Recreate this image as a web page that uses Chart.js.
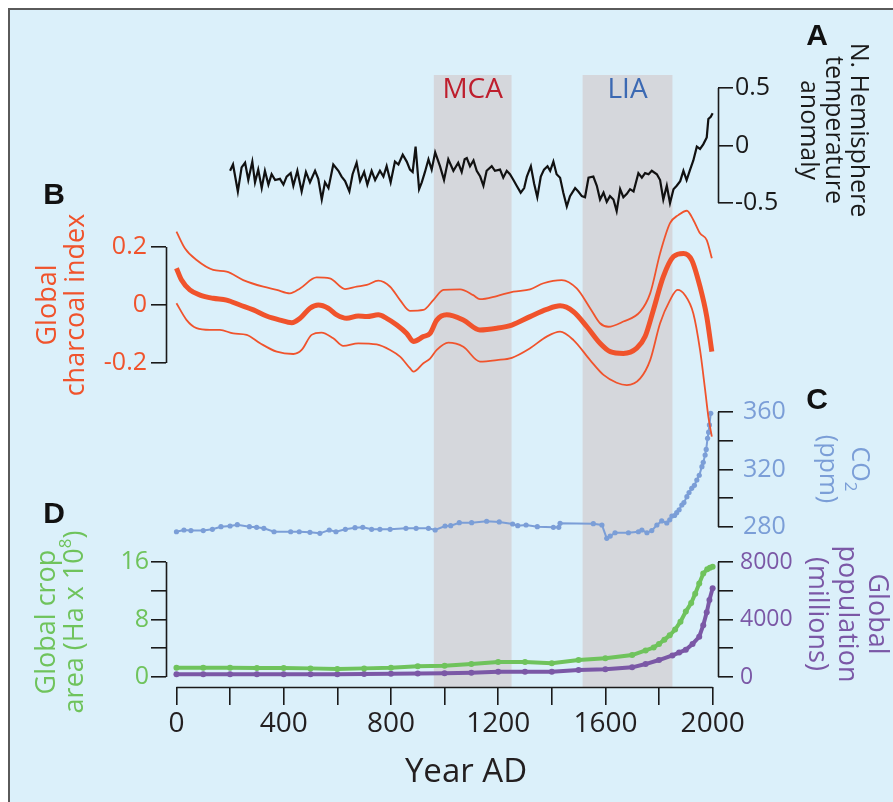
<!DOCTYPE html>
<html>
<head>
<meta charset="utf-8">
<script src="https://cdn.jsdelivr.net/npm/chart.js@4.4.1/dist/chart.umd.min.js"></script>
<style>
  html, body { margin: 0; padding: 0; background: #ffffff; }
  #frame { position: absolute; left: 8px; top: 8px; width: 885px; height: 794px; box-sizing: border-box;
           background: #dbf0fa; border-left: 2px solid #5a5a5a; border-top: 2px solid #5a5a5a; }
  #wrap { position: absolute; left: 0; top: 0; width: 893px; height: 802px; }
</style>
</head>
<body>
<div id="frame"></div>
<div id="wrap"><canvas id="fig"></canvas></div>
<script>
// ---- data ----
const periods = ['MCA', 'LIA'];
const periodStart = [960, 1515];
const periodEnd = [1250, 1850];

// A: N. Hemisphere temperature anomaly
const tempYears = [200,211,229,243,256,268,283,293,305,318,330,343,355,368,386,399,411,426,436,451,467,483,498,517,529,542,554,567,585,604,616,629,645,657,672,685,700,712,728,741,759,772,784,799,815,828,844,859,871,881,892,905,915,927,940,952,965,983,998,1014,1033,1051,1064,1075,1083,1095,1108,1120,1133,1145,1157,1176,1188,1207,1219,1232,1244,1257,1269,1284,1297,1307,1322,1334,1346,1359,1371,1384,1394,1406,1418,1431,1443,1456,1468,1487,1499,1512,1524,1537,1555,1568,1580,1593,1605,1617,1630,1642,1655,1667,1680,1692,1705,1723,1736,1748,1761,1773,1792,1804,1816,1829,1841,1854,1866,1879,1891,1903,1916,1928,1941,1953,1965,1978,1984,1993,2000];
const tempAnom = [-0.22,-0.165,-0.40,-0.19,-0.15,-0.30,-0.14,-0.32,-0.21,-0.37,-0.22,-0.34,-0.25,-0.30,-0.29,-0.34,-0.27,-0.24,-0.35,-0.22,-0.40,-0.23,-0.32,-0.22,-0.29,-0.47,-0.32,-0.37,-0.165,-0.22,-0.27,-0.31,-0.40,-0.25,-0.15,-0.31,-0.23,-0.34,-0.22,-0.30,-0.22,-0.27,-0.18,-0.32,-0.14,-0.165,-0.08,-0.14,-0.21,-0.23,-0.01,-0.38,-0.32,-0.23,-0.12,-0.21,-0.06,-0.18,-0.30,-0.12,-0.22,-0.15,-0.23,-0.12,-0.11,-0.18,-0.13,-0.22,-0.27,-0.35,-0.22,-0.18,-0.22,-0.21,-0.28,-0.22,-0.25,-0.30,-0.35,-0.41,-0.37,-0.27,-0.18,-0.33,-0.45,-0.27,-0.21,-0.18,-0.22,-0.14,-0.25,-0.28,-0.41,-0.53,-0.44,-0.37,-0.40,-0.44,-0.45,-0.28,-0.27,-0.35,-0.47,-0.41,-0.49,-0.44,-0.47,-0.57,-0.38,-0.45,-0.42,-0.38,-0.40,-0.24,-0.28,-0.24,-0.25,-0.22,-0.25,-0.30,-0.47,-0.35,-0.50,-0.38,-0.35,-0.31,-0.22,-0.30,-0.21,-0.13,-0.01,-0.03,0.01,0.07,0.23,0.25,0.28];

// B: global charcoal index (mean and bounds)
const charMeanYears = [0,19,50,88,137,187,237,287,336,386,430,461,498,529,566,598,635,678,710,753,784,822,859,884,921,946,971,1008,1070,1132,1195,1251,1319,1381,1431,1481,1531,1580,1618,1667,1717,1748,1779,1816,1854,1891,1922,1953,1978,1997];
const charMean = [0.127,0.086,0.052,0.034,0.023,0.017,0,-0.017,-0.038,-0.052,-0.061,-0.046,-0.011,0,-0.011,-0.034,-0.046,-0.038,-0.04,-0.034,-0.046,-0.069,-0.098,-0.126,-0.109,-0.098,-0.052,-0.034,-0.052,-0.086,-0.080,-0.069,-0.040,-0.015,-0.003,-0.023,-0.075,-0.132,-0.161,-0.167,-0.149,-0.109,-0.017,0.098,0.167,0.178,0.155,0.063,-0.040,-0.161];
const charUpperYears = [0,32,75,137,187,249,324,374,423,461,523,572,629,672,710,753,797,834,871,921,958,996,1058,1107,1132,1195,1257,1319,1369,1437,1493,1543,1580,1611,1667,1730,1767,1804,1841,1872,1904,1928,1953,1978,1997];
const charUpper = [0.253,0.195,0.155,0.121,0.115,0.086,0.063,0.052,0.040,0.057,0.095,0.092,0.055,0.063,0.069,0.084,0.063,0.017,-0.020,-0.017,0.017,0.052,0.054,0.034,0.020,0.031,0.046,0.054,0.075,0.086,0.057,-0.011,-0.063,-0.075,-0.057,-0.023,0.040,0.178,0.282,0.310,0.325,0.293,0.247,0.224,0.161];
const charLowerYears = [0,38,75,125,162,212,262,312,374,436,467,504,541,585,622,678,747,797,834,871,884,921,946,971,1014,1070,1132,1195,1251,1319,1381,1431,1481,1543,1593,1642,1680,1730,1767,1804,1841,1869,1897,1928,1953,1972,1984,1997];
const charLower = [0.006,-0.052,-0.080,-0.086,-0.086,-0.098,-0.103,-0.132,-0.161,-0.169,-0.155,-0.103,-0.095,-0.115,-0.141,-0.132,-0.136,-0.155,-0.178,-0.218,-0.230,-0.201,-0.185,-0.155,-0.130,-0.144,-0.195,-0.190,-0.182,-0.149,-0.109,-0.092,-0.121,-0.190,-0.241,-0.268,-0.276,-0.253,-0.190,-0.063,0.017,0.052,0.034,-0.029,-0.155,-0.293,-0.385,-0.454];

// C: CO2 (ppm)
const co2Years = [0,28,54,100,134,166,200,227,272,299,326,364,426,458,498,535,570,595,630,666,695,728,759,797,856,894,940,965,1002,1023,1055,1101,1157,1204,1254,1273,1304,1346,1406,1426,1431,1555,1587,1605,1618,1636,1686,1723,1736,1755,1773,1792,1810,1829,1840,1848,1858,1866,1875,1885,1893,1904,1912,1922,1932,1941,1950,1960,1965,1972,1976,1981,1985,1988,1993];
const co2Ppm = [276.7,277.9,277.5,277.5,278.4,280.2,280.7,281.6,280.2,279.8,279.1,276.7,276.7,276.7,276.3,275.6,277.9,276.7,278.4,279.5,279.8,278.4,278.4,278.4,279.1,279.1,279.1,277.9,280.7,280.9,283,283,284,283.5,282.1,280.9,281.4,280.2,279.8,279.8,282.6,282.3,281.4,272.1,273.7,276,276,276.7,277.9,276,277.5,281.4,284.2,282.8,285,287.6,288,290,292,295.3,297,301.1,304,306.9,309,312.7,316,322,325,330.1,334,341.7,346,351,359.1];

// D: global crop area (Ha x 10^8) and population (millions)
const cropYears = [0,100,200,300,400,500,600,700,800,900,1000,1100,1200,1300,1400,1500,1600,1700,1750,1780,1800,1820,1840,1860,1880,1900,1920,1935,1950,1965,1980,1990,2000];
const cropArea = [1.3,1.3,1.3,1.25,1.25,1.2,1.1,1.2,1.3,1.5,1.55,1.8,2.1,2.1,1.9,2.35,2.6,3.05,3.7,4.1,4.6,5.2,5.8,6.6,7.7,9.1,10.3,11.6,13.0,14.4,15.0,15.2,15.35];
const popYears = [0,100,200,300,400,500,600,700,800,900,1000,1100,1200,1300,1400,1500,1600,1700,1750,1800,1850,1875,1900,1925,1950,1965,1978,1988,2000];
const popMillions = [190,190,190,190,190,190,200,210,220,240,256,300,370,370,370,487,533,672,900,1180,1500,1700,1900,2300,2800,3600,4500,5350,6170];

// ticks
const xTicks = [0,200,400,600,800,1000,1200,1400,1600,1800,2000];
const xLabelled = [0,400,800,1200,1600,2000];
const tempTicks = [-0.5, 0, 0.5];
const charTicks = [-0.2, 0, 0.2];
const co2Ticks = [280, 300, 320, 340, 360];
const co2Labelled = [280, 320, 360];
const cropTicks = [0, 4, 8, 12, 16];
const cropLabelled = [0, 8, 16];
const popTicks = [0, 2000, 4000, 6000, 8000];
const popLabelled = [0, 4000, 8000];

// ---- layout ----
const TOP = 75, BOTTOM = 687;
const INK = '#1a1a1a';
const RED = '#f0532c', BLUE = '#7b9ed7', GREEN = '#6fc35c', PURPLE = '#7b58a6';

// range of an axis that puts value vHi at pixel pHi and vLo at pixel pLo
function span(vHi, pHi, vLo, pLo) {
  const k = (vHi - vLo) / (pLo - pHi);
  return { min: vLo - (BOTTOM - pLo) * k, max: vHi + (pHi - TOP) * k };
}

function yAxis(pos, color, ticks, labelled, rng, pad, size) {
  return {
    type: 'linear', position: pos, min: rng.min, max: rng.max,
    afterFit: s => { s.width = 0; },
    afterBuildTicks: s => { s.ticks = ticks.map(v => ({ value: v })); },
    border: { display: false },
    grid: { drawOnChartArea: false, color: INK, lineWidth: 1.6, tickLength: 15 },
    ticks: { color: color, padding: pad, font: { size: size },
             callback: v => labelled.includes(v) ? String(v) : '' }
  };
}

const xy = (xs, ys) => xs.map((x, i) => ({ x: x, y: ys[i] }));

function richLine(ctx, runs, y, base) {
  let w = 0;
  runs.forEach(r => { ctx.font = (r.size || base) + "px 'Open Sans'"; r.w = ctx.measureText(r.t).width; w += r.w; });
  let x = -w / 2;
  runs.forEach(r => {
    ctx.font = (r.size || base) + "px 'Open Sans'";
    ctx.fillText(r.t, x, y + (r.dy || 0));
    x += r.w;
  });
}

function sideTitle(ctx, lines, cx, cy, angle, lh, size, color) {
  ctx.save();
  ctx.translate(cx, cy);
  ctx.rotate(angle);
  ctx.fillStyle = color;
  ctx.textAlign = 'left';
  ctx.textBaseline = 'middle';
  const n = lines.length;
  lines.forEach((l, i) => {
    const runs = typeof l === 'string' ? [{ t: l }] : l;
    richLine(ctx, runs, (i - (n - 1) / 2) * lh, size);
  });
  ctx.restore();
}

const decor = {
  id: 'decor',
  // axes were fitted with zero size; widen their boxes so the tick labels are not clipped
  afterLayout(chart) {
    Object.values(chart.scales).forEach(s => {
      if (s.position === 'left') s.left = s.right - 160;
      else if (s.position === 'right') s.right = s.left + 170;
      else if (s.position === 'bottom') s.bottom = s.top + 100;
    });
  },
  beforeDraw(chart) {
    const ctx = chart.ctx, xs = chart.scales.x;
    ctx.save();
    ctx.fillStyle = '#d5d7dc';
    periods.forEach((p, i) => {
      const x0 = xs.getPixelForValue(periodStart[i]), x1 = xs.getPixelForValue(periodEnd[i]);
      ctx.fillRect(x0, TOP, x1 - x0, BOTTOM + 1 - TOP);
    });
    ctx.restore();
  },
  afterDraw(chart) {
    const ctx = chart.ctx, xs = chart.scales.x;
    ctx.save();
    // axis spines spanning the tick range only
    ctx.strokeStyle = INK; ctx.lineWidth = 1.6;
    ['yA', 'yB', 'yC', 'yD', 'yP'].forEach(id => {
      const s = chart.scales[id], t = s.ticks;
      const x = Math.round(s.position === 'left' ? s.right : s.left) + 0.5;
      ctx.beginPath();
      ctx.moveTo(x, s.getPixelForValue(t[0].value));
      ctx.lineTo(x, s.getPixelForValue(t[t.length - 1].value));
      ctx.stroke();
    });
    ctx.beginPath();
    ctx.moveTo(xs.getPixelForValue(xTicks[0]), BOTTOM + 0.5);
    ctx.lineTo(xs.getPixelForValue(xTicks[xTicks.length - 1]), BOTTOM + 0.5);
    ctx.stroke();

    // period labels
    ctx.textAlign = 'center'; ctx.textBaseline = 'middle';
    ctx.font = "28px 'Open Sans'";
    const pc = ['#be1e2d', '#3b69b3'];
    periods.forEach((p, i) => {
      ctx.fillStyle = pc[i];
      ctx.fillText(p, xs.getPixelForValue((periodStart[i] + periodEnd[i]) / 2), 90);
    });

    // panel letters
    ctx.fillStyle = '#111';
    ctx.font = "bold 30px 'Liberation Sans'";
    ctx.fillText('A', 817, 37);
    ctx.fillText('B', 54, 196);
    ctx.fillText('C', 817, 401);
    ctx.fillText('D', 54, 515);

    // x title
    ctx.fillStyle = '#231f20';
    ctx.font = "33px 'Open Sans'";
    ctx.fillText('Year AD', 466, 773);
    ctx.restore();

    // axis titles
    sideTitle(ctx, ['N. Hemisphere', 'temperature', 'anomaly'], 833, 130, Math.PI / 2, 25, 25, INK);
    sideTitle(ctx, ['Global', 'charcoal index'], 62, 305, -Math.PI / 2, 28, 27, RED);
    sideTitle(ctx, [[{ t: 'CO' }, { t: '2', size: 17, dy: 9 }], '(ppm)'], 843, 469, Math.PI / 2, 32, 25, BLUE);
    sideTitle(ctx, ['Global crop', [{ t: 'area (Ha x 10' }, { t: '8', size: 17, dy: -9 }, { t: ')' }]], 61, 622, -Math.PI / 2, 28, 27, GREEN);
    sideTitle(ctx, ['Global', 'population', '(millions)'], 847, 614, Math.PI / 2, 30, 27, PURPLE);
  }
};

Chart.defaults.font.family = "'Open Sans', sans-serif";

new Chart(document.getElementById('fig'), {
  type: 'line',
  data: {
    datasets: [
      { data: xy(tempYears, tempAnom), yAxisID: 'yA', borderColor: '#111', borderWidth: 2.2, pointRadius: 0, tension: 0 },
      { data: xy(charUpperYears, charUpper), yAxisID: 'yB', borderColor: RED, borderWidth: 1.8, pointRadius: 0, cubicInterpolationMode: 'monotone' },
      { data: xy(charLowerYears, charLower), yAxisID: 'yB', borderColor: RED, borderWidth: 1.8, pointRadius: 0, cubicInterpolationMode: 'monotone' },
      { data: xy(charMeanYears, charMean), yAxisID: 'yB', borderColor: RED, borderWidth: 5, pointRadius: 0, cubicInterpolationMode: 'monotone' },
      { data: xy(co2Years, co2Ppm), yAxisID: 'yC', borderColor: BLUE, backgroundColor: BLUE, borderWidth: 2, pointRadius: 2.6, pointBorderWidth: 0, tension: 0 },
      { data: xy(cropYears, cropArea), yAxisID: 'yD', borderColor: GREEN, backgroundColor: GREEN, borderWidth: 4, pointRadius: 3, pointBorderWidth: 0, tension: 0 },
      { data: xy(popYears, popMillions), yAxisID: 'yP', borderColor: PURPLE, backgroundColor: PURPLE, borderWidth: 4, pointRadius: 3, pointBorderWidth: 0, tension: 0 }
    ]
  },
  options: {
    responsive: true,
    maintainAspectRatio: false,
    animation: false,
    layout: { padding: { left: 166, right: 175, top: TOP, bottom: 802 - BOTTOM } },
    plugins: { legend: { display: false }, tooltip: { enabled: false } },
    scales: {
      x: {
        type: 'linear', min: -39, max: 2020,
        afterFit: s => { s.height = 0; },
        afterBuildTicks: s => { s.ticks = xTicks.map(v => ({ value: v })); },
        border: { display: false },
        grid: { drawOnChartArea: false, color: INK, lineWidth: 1.6, tickLength: 18 },
        ticks: { color: '#231f20', padding: 2, autoSkip: false, maxRotation: 0, font: { size: 28 },
                 callback: v => xLabelled.includes(v) ? String(v) : '' }
      },
      yA: yAxis('right', INK, tempTicks, tempTicks, span(0.5, 88, -0.5, 203), 2, 25),
      yB: yAxis('left', RED, charTicks, charTicks, span(0.2, 247, -0.2, 363), 4, 25),
      yC: yAxis('right', BLUE, co2Ticks, co2Labelled, span(360, 412, 280, 527), 10, 25),
      yD: yAxis('left', GREEN, cropTicks, cropLabelled, span(16, 562, 0, 677), 2, 25),
      yP: yAxis('right', PURPLE, popTicks, popLabelled, span(8000, 562, 0, 677), 7, 23)
    }
  },
  plugins: [decor]
});
</script>
</body>
</html>
